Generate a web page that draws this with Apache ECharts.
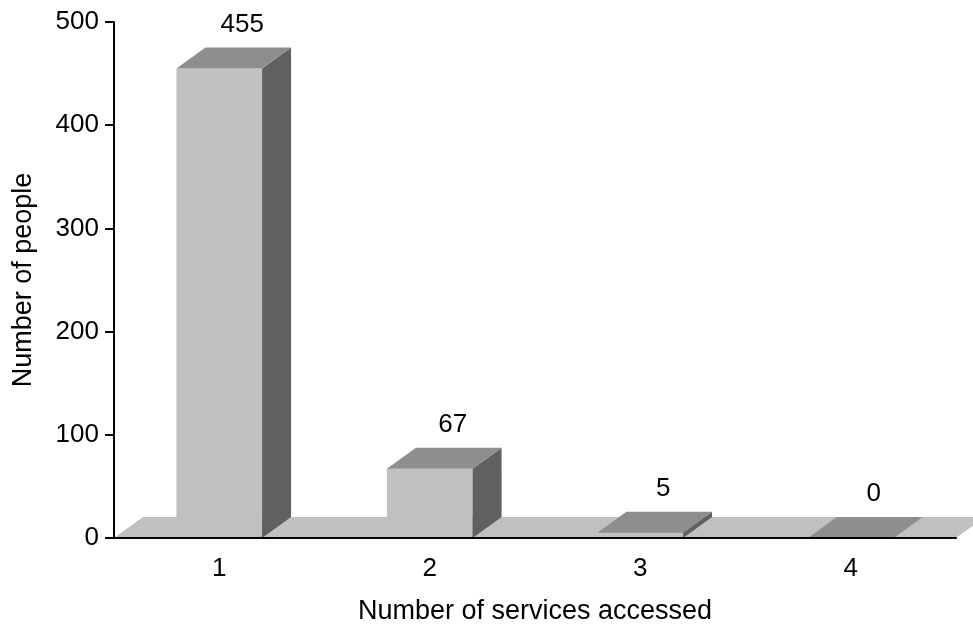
<!DOCTYPE html>
<html><head><meta charset="utf-8">
<script src="https://cdn.jsdelivr.net/npm/echarts@6/dist/echarts.min.js"></script>
<style>html,body{margin:0;padding:0;background:#fff}#c{width:973px;height:630px}</style>
</head><body><div id="c"></div>
<script>
const categories = ['1', '2', '3', '4'];
const peopleCounts = [455, 67, 5, 0];
const yTicks = [0, 100, 200, 300, 400, 500];
const xTitle = 'Number of services accessed';
const yTitle = 'Number of people';

const DX = 29, DY = 21, BAR_RATIO = 0.407;
const FONT = '"Liberation Sans", Arial, Helvetica, sans-serif';
const FRONT = '#c0c0c0', SIDE = '#606060', TOP = '#8e8e8e';

const chart = echarts.init(document.getElementById('c'), null, {renderer: 'canvas'});
chart.setOption({
  animation: false,
  backgroundColor: '#fff',
  grid: {left: 114, right: 17, top: 22, bottom: 88},
  xAxis: {
    type: 'category', data: categories, boundaryGap: true, z: 10,
    name: xTitle, nameLocation: 'middle', nameGap: 60,
    nameTextStyle: {fontFamily: FONT, fontSize: 27, color: '#000'},
    axisLine: {lineStyle: {color: '#000', width: 2}},
    axisTick: {length: 10, lineStyle: {color: '#000', width: 2}},
    axisLabel: {margin: 18, fontFamily: FONT, fontSize: 26, color: '#000'},
    splitLine: {show: false}
  },
  yAxis: {
    type: 'value', min: yTicks[0], max: yTicks[yTicks.length - 1],
    interval: yTicks[1] - yTicks[0], z: 10,
    name: yTitle, nameLocation: 'middle', nameGap: 77, nameRotate: 90,
    nameTextStyle: {fontFamily: FONT, fontSize: 27, color: '#000'},
    axisLine: {show: true, lineStyle: {color: '#000', width: 2}},
    axisTick: {show: true, length: 9, lineStyle: {color: '#000', width: 2}},
    axisLabel: {margin: 15, fontFamily: FONT, fontSize: 26, color: '#000'},
    splitLine: {show: false}
  },
  series: [
    {
      type: 'custom', silent: true, z: 1,
      data: [[0, 0]],
      encode: {x: 0, y: 1},
      renderItem: function (params, api) {
        const cs = params.coordSys;
        const x0 = cs.x, x1 = cs.x + cs.width;
        const y0 = api.coord([0, 0])[1];
        return {
          type: 'polygon',
          shape: {points: [[x0, y0], [x1, y0], [x1 + DX, y0 - DY], [x0 + DX, y0 - DY]]},
          style: {fill: FRONT}
        };
      }
    },
    {
      type: 'custom', silent: true, z: 2,
      data: peopleCounts.map((v, i) => [i, v]),
      encode: {x: 0, y: 1},
      renderItem: function (params, api) {
        const idx = api.value(0), val = api.value(1);
        const base = api.coord([idx, 0]);
        const top = api.coord([idx, val]);
        const w = api.size([1, 0])[0] * BAR_RATIO;
        const xl = base[0] - w / 2, xr = base[0] + w / 2;
        const yb = base[1], yt = top[1];
        const children = [];
        if (yb - yt > 0.01) {
          children.push({type: 'polygon', shape: {points: [[xl, yb], [xr, yb], [xr, yt], [xl, yt]]}, style: {fill: FRONT}});
          children.push({type: 'polygon', shape: {points: [[xr, yb], [xr + DX, yb - DY], [xr + DX, yt - DY], [xr, yt]]}, style: {fill: SIDE}});
        }
        children.push({type: 'polygon', shape: {points: [[xl, yt], [xr, yt], [xr + DX, yt - DY], [xl + DX, yt - DY]]}, style: {fill: TOP}});
        children.push({
          type: 'text',
          style: {
            x: base[0] + 23, y: yt - DY - 23, text: String(val),
            align: 'center', verticalAlign: 'middle',
            fontFamily: FONT, fontSize: 26, fill: '#000'
          }
        });
        return {type: 'group', children: children};
      }
    }
  ]
});
</script>
</body></html>
